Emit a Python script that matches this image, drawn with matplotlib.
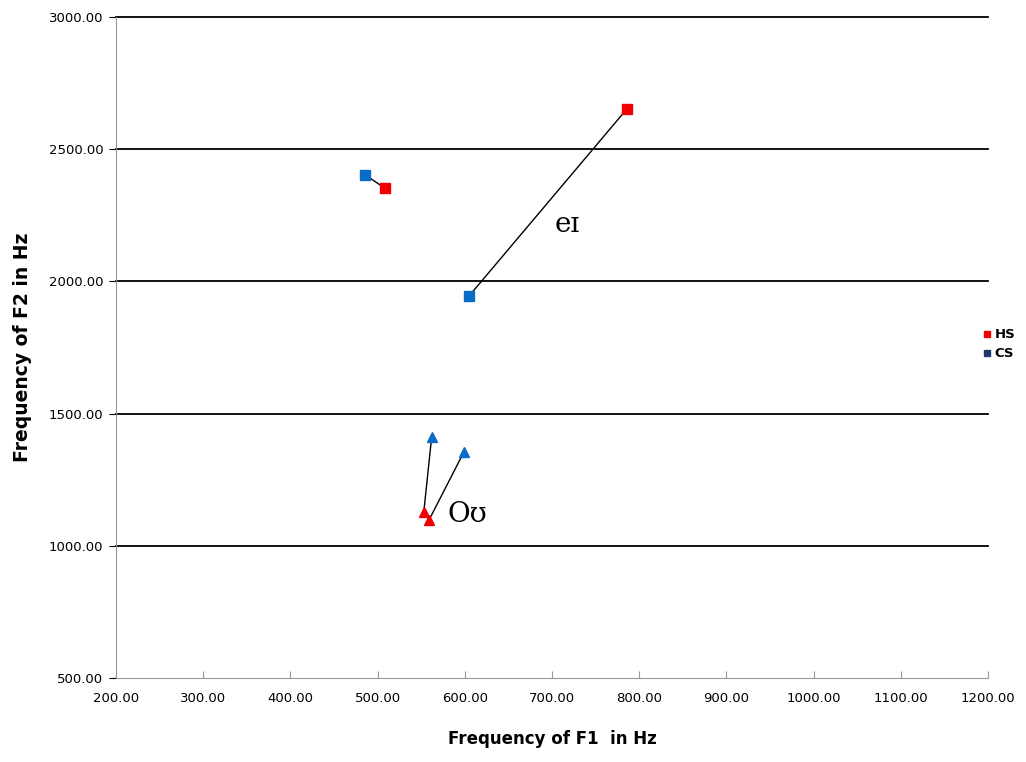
import matplotlib.pyplot as plt
from matplotlib.lines import Line2D

# F1 / F2 values (Hz), HS = red, CS = blue
pairs_f1_hs = [508, 786, 553, 559]
pairs_f2_hs = [2353, 2652, 1128, 1098]
pairs_f1_cs = [486, 605, 562, 599]
pairs_f2_cs = [2402, 1945, 1411, 1355]
markers = ['s', 's', '^', '^']

x_ticks = [200, 300, 400, 500, 600, 700, 800, 900, 1000, 1100, 1200]
y_ticks = [500, 1000, 1500, 2000, 2500, 3000]

red = '#EE0000'
blue = '#0A6CC4'
navy = '#1F3A6A'

fig = plt.figure(figsize=(10.26, 7.62), dpi=100)
ax = fig.add_axes([0.113, 0.110, 0.850, 0.868])

for y in y_ticks[1:]:
    ax.axhline(y, color='black', lw=1.3, zorder=1, clip_on=False)

for i in range(len(markers)):
    ax.plot([pairs_f1_hs[i], pairs_f1_cs[i]], [pairs_f2_hs[i], pairs_f2_cs[i]],
            color='black', lw=1.0, zorder=2)
    ax.plot(pairs_f1_hs[i], pairs_f2_hs[i], marker=markers[i], color=red,
            markersize=6.5, ls='none', zorder=3)
    ax.plot(pairs_f1_cs[i], pairs_f2_cs[i], marker=markers[i], color=blue,
            markersize=6.5, ls='none', zorder=3)

ax.text(718, 2213, 'eɪ', fontsize=20, family='DejaVu Serif', ha='center', va='center')
ax.text(603, 1117, 'Oʊ', fontsize=20, family='DejaVu Serif', ha='center', va='center')

ax.set_xlim(200, 1200)
ax.set_ylim(500, 3000)
ax.set_xticks(x_ticks)
ax.set_yticks(y_ticks)
ax.set_xticklabels(['%.2f' % v for v in x_ticks], fontsize=9.5)
ax.set_yticklabels(['%.2f' % v for v in y_ticks], fontsize=9.5)
ax.tick_params(axis='x', direction='in', length=5, color='#999999', pad=10)
ax.tick_params(axis='y', direction='out', length=5, color='black', pad=4)

for s in ['top', 'right']:
    ax.spines[s].set_visible(False)
ax.spines['left'].set_color('#999999')
ax.spines['bottom'].set_color('#999999')

ax.set_xlabel('Frequency of F1  in Hz', fontsize=12, fontweight='bold', labelpad=18)
ax.set_ylabel('Frequency of F2 in Hz', fontsize=13.5, fontweight='bold', labelpad=12)

handles = [Line2D([], [], marker='s', color=red, ls='none', markersize=4.5),
           Line2D([], [], marker='s', color=navy, ls='none', markersize=4.5)]
fig.legend(handles, ['HS', 'CS'], loc='center left', bbox_to_anchor=(0.958, 0.548),
           frameon=False, borderpad=0, borderaxespad=0, handlelength=0.6,
           handletextpad=0.3, labelspacing=0.45,
           prop={'weight': 'bold', 'size': 9.5})

fig.savefig('out.png', dpi=100)
